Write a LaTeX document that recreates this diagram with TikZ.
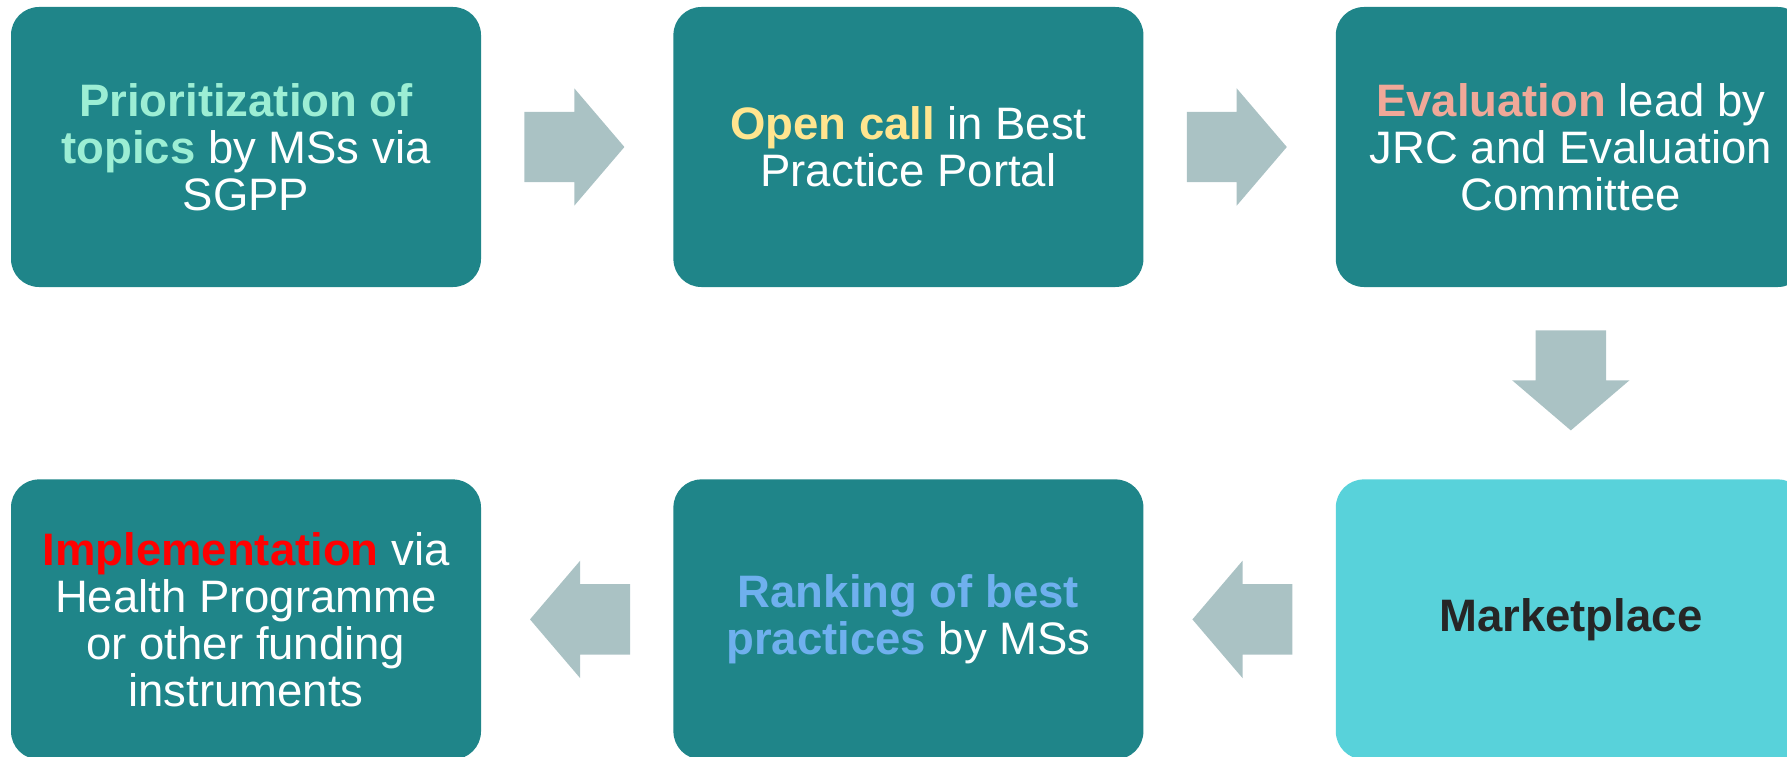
\documentclass[tikz,border=0pt]{standalone}
\usepackage{fontspec}
\setmainfont{Liberation Sans}
\usetikzlibrary{calc}
\usetikzlibrary{positioning}
\usetikzlibrary{shapes.arrows}
\definecolor{boxteal}{RGB}{31,133,137}
\definecolor{boxcyan}{RGB}{88,210,218}
\definecolor{arrowgray}{RGB}{170,194,196}
\definecolor{mint}{RGB}{156,238,212}
\definecolor{sand}{RGB}{255,229,143}
\definecolor{salmon}{RGB}{240,168,152}
\definecolor{sky}{RGB}{111,176,238}
\definecolor{darktext}{RGB}{38,38,38}
\tikzstyle{stepnode} = [rectangle, rounded corners=28pt, minimum width=470pt, minimum height=280pt, fill=boxteal, text=white, align=center, font=\fontsize{45.5}{47}\selectfont, inner sep=0pt]
\tikzstyle{flowarrow} = [single arrow, fill=arrowgray, anchor=tail, inner xsep=0pt, inner ysep=35pt, minimum height=100pt, single arrow head extend=23.5pt, single arrow tip angle=99]
\newcommand{\keyword}[2]{\textcolor{#1}{\bfseries #2}}

\begin{document}
\begin{tikzpicture}[x=1pt, y=-1pt]
  \useasboundingbox (0,0) rectangle (1787,757);

  \node[stepnode] (prio) at (246,147) {\keyword{mint}{Prioritization of}\\ \keyword{mint}{topics} by MSs via\\ SGPP};
  \node[stepnode, right=192pt of prio] (call) {\keyword{sand}{Open call} in Best\\ Practice Portal};
  \node[stepnode, right=192pt of call] (eval) {\keyword{salmon}{Evaluation} lead by\\ JRC and Evaluation\\ Committee};
  \node[stepnode, below=192pt of eval, fill=boxcyan, text=darktext] (market) {\bfseries Marketplace};
  \node[stepnode, left=192pt of market] (rank) {\keyword{sky}{Ranking of best}\\ \keyword{sky}{practices} by MSs};
  \node[stepnode, left=192pt of rank] (impl) {\keyword{red}{Implementation} via\\ Health Programme\\ or other funding\\ instruments};

  \node[flowarrow] (prio_call) at ($(prio.east)!0.5!(call.west)+(-53,0)$) {};
  \node[flowarrow] (call_eval) at ($(call.east)!0.5!(eval.west)+(-53,0)$) {};
  \node[flowarrow, rotate=-90] (eval_market) at ($(eval.south)!0.5!(market.north)+(0,-53)$) {};
  \node[flowarrow, rotate=180] (market_rank) at ($(market.west)!0.5!(rank.east)+(53,0)$) {};
  \node[flowarrow, rotate=180] (rank_impl) at ($(rank.west)!0.5!(impl.east)+(53,0)$) {};
\end{tikzpicture}
\end{document}
